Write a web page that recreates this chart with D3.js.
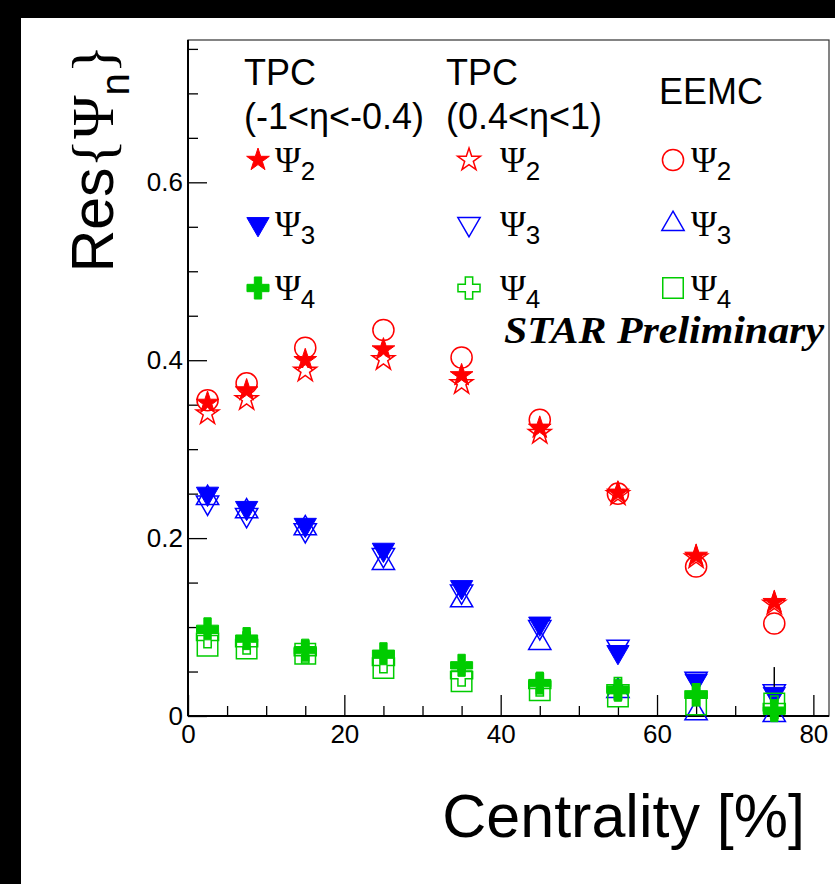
<!DOCTYPE html>
<html>
<head>
<meta charset="utf-8">
<script src="https://cdn.jsdelivr.net/npm/d3@7"></script>
<style>
  body { margin: 0; background: #000; }
  svg { display: block; }
</style>
</head>
<body>
<script>
// centrality bins (bin centres, %)
var centrality = [2.5, 7.5, 15, 25, 35, 45, 55, 65, 75];

// TPC (-1<eta<-0.4), filled markers
var tpcEastPsi2 = [0.352, 0.366, 0.400, 0.412, 0.383, 0.324, 0.251, 0.180, 0.128];
var tpcEastPsi3 = [0.250, 0.234, 0.215, 0.187, 0.145, 0.104, 0.072, 0.040, 0.025];
var tpcEastPsi4 = [0.098, 0.087, 0.074, 0.070, 0.057, 0.037, 0.029, 0.024, 0.006];
var tpcEastPsi3Err = [0, 0, 0, 0, 0, 0, 0, 0, 0.030];

// TPC (0.4<eta<1), open markers
var tpcWestPsi2 = [0.340, 0.356, 0.388, 0.401, 0.374, 0.318, 0.249, 0.178, 0.126];
var tpcWestPsi3 = [0.240, 0.226, 0.209, 0.181, 0.140, 0.100, 0.078, 0.042, 0.028];
var tpcWestPsi4 = [0.089, 0.082, 0.072, 0.061, 0.046, 0.035, 0.031, 0.024, 0.010];

// EEMC
var eemcPsi2 = [0.355, 0.374, 0.414, 0.434, 0.403, 0.333, 0.250, 0.168, 0.104];
var eemcPsi3 = [0.245, 0.230, 0.211, 0.172, 0.130, 0.082, 0.028, 0.003, 0.001];
var eemcPsi4 = [0.079, 0.076, 0.070, 0.054, 0.039, 0.029, 0.022, 0.013, 0.014];

// axis ticks
var xMajor = [0, 20, 40, 60, 80];
var yMajor = [0, 0.2, 0.4, 0.6];

var red = "#ff0000", blue = "#0000ff", green = "#00cc00";
var sans = "'Liberation Sans', Helvetica, Arial, sans-serif";
var serif = "'Liberation Serif', 'Times New Roman', serif";

var width = 835, height = 884;

var svg = d3.select("body").append("svg")
    .attr("width", width)
    .attr("height", height);

// black border round the canvas
svg.append("rect").attr("width", width).attr("height", height).attr("fill", "#000");
svg.append("rect").attr("x", 21).attr("y", 18)
    .attr("width", width - 21).attr("height", height - 18).attr("fill", "#fff");

var x = d3.scaleLinear().domain([0, 82]).range([188, 829]);
var y = d3.scaleLinear().domain([0, 0.76]).range([716, 40]);

// frame
svg.append("rect")
    .attr("x", x(0)).attr("y", y(0.76))
    .attr("width", x(82) - x(0)).attr("height", y(0) - y(0.76))
    .attr("fill", "none").attr("stroke", "#333").attr("stroke-width", 1.2);

// axes, ticks pointing inwards
var xAxis = svg.append("g").attr("transform", "translate(0," + y(0) + ")")
    .call(d3.axisBottom(x).tickValues(xMajor).tickSizeInner(-21).tickSizeOuter(0).tickPadding(9));
var xMinor = svg.append("g").attr("transform", "translate(0," + y(0) + ")")
    .call(d3.axisBottom(x).tickValues(d3.range(0, 81, 5).filter(function(d){ return d % 20 !== 0; }))
        .tickSizeInner(-10).tickSizeOuter(0).tickFormat(""));
var yAxis = svg.append("g").attr("transform", "translate(" + x(0) + ",0)")
    .call(d3.axisLeft(y).tickValues(yMajor).tickSizeInner(-19).tickSizeOuter(0).tickPadding(5)
        .tickFormat(function(d){ return d === 0 ? "0" : d3.format(".1f")(d); }));
var yMinor = svg.append("g").attr("transform", "translate(" + x(0) + ",0)")
    .call(d3.axisLeft(y).tickValues(d3.range(0, 16).map(function(i){ return i * 0.05; })
            .filter(function(d, i){ return i % 4 !== 0; }))
        .tickSizeInner(-10).tickSizeOuter(0).tickFormat(""));

[xAxis, xMinor, yAxis, yMinor].forEach(function(g){
    g.select(".domain").remove();
    g.selectAll("line").attr("stroke", "#000").attr("stroke-width", 1.3);
    g.selectAll("text").attr("font-family", sans).attr("font-size", 26).attr("fill", "#000");
});

// axis lines
svg.append("line").attr("x1", x(0)).attr("x2", x(82)).attr("y1", y(0)).attr("y2", y(0))
    .attr("stroke", "#000").attr("stroke-width", 2);
svg.append("line").attr("x1", x(0)).attr("x2", x(0)).attr("y1", y(0)).attr("y2", y(0.76))
    .attr("stroke", "#000").attr("stroke-width", 2);

// marker shapes
var starSym = d3.symbol().type(d3.symbolStar).size(160);
var circleSym = d3.symbol().type(d3.symbolCircle).size(350);
var triSym = d3.symbol().type(d3.symbolTriangle).size(215);
var squareSym = d3.symbol().type(d3.symbolSquare).size(420);
var crossSym = d3.symbol().type(d3.symbolCross).size(270);

var series = [
    {values: eemcPsi2, shape: circleSym, color: red, filled: false},
    {values: tpcWestPsi2, shape: starSym, color: red, filled: false},
    {values: tpcEastPsi2, shape: starSym, color: red, filled: true},
    {values: eemcPsi3, shape: triSym, color: blue, filled: false},
    {values: tpcWestPsi3, shape: triSym, color: blue, filled: false, flip: true},
    {values: tpcEastPsi3, shape: triSym, color: blue, filled: true, flip: true, err: tpcEastPsi3Err},
    {values: eemcPsi4, shape: squareSym, color: green, filled: false},
    {values: tpcWestPsi4, shape: crossSym, color: green, filled: false},
    {values: tpcEastPsi4, shape: crossSym, color: green, filled: true}
];

function drawMarker(g, s, cx, cy){
    g.append("path")
        .attr("d", s.shape())
        .attr("transform", "translate(" + cx + "," + cy + ")" + (s.flip ? " rotate(180)" : ""))
        .attr("fill", s.filled ? s.color : "none")
        .attr("stroke", s.color)
        .attr("stroke-width", s.filled ? 1 : 1.5);
}

var plot = svg.append("g");
series.forEach(function(s){
    if (s.err) {
        s.err.forEach(function(e, i){
            if (!e) return;
            plot.append("line")
                .attr("x1", x(centrality[i])).attr("x2", x(centrality[i]))
                .attr("y1", y(Math.min(0.76, s.values[i] + e)))
                .attr("y2", y(Math.max(0, s.values[i] - e)))
                .attr("stroke", "#000").attr("stroke-width", 1.5);
        });
    }
    s.values.forEach(function(v, i){
        drawMarker(plot, s, x(centrality[i]), y(v));
    });
});

// legend
var legend = svg.append("g");
var heads = [
    {x: 244, lines: ["TPC", "(-1<\u03b7<-0.4)"], y: 85},
    {x: 446, lines: ["TPC", "(0.4<\u03b7<1)"], y: 85},
    {x: 659, lines: ["EEMC"], y: 104}
];
heads.forEach(function(h){
    h.lines.forEach(function(t, i){
        legend.append("text")
            .attr("x", h.x).attr("y", h.y + i * 44)
            .attr("font-family", sans).attr("font-size", 36)
            .text(t);
    });
});

var harmonics = ["2", "3", "4"];
var rowY = [160, 224, 288];
var colMarkerX = [258, 469, 673];
var colTextX = [275, 500, 691];
// series are grouped by harmonic, columns: filled TPC, open TPC, EEMC
var colOrder = [2, 1, 0];
harmonics.forEach(function(n, r){
    colOrder.forEach(function(k, c){
        var s = series[r * 3 + k];
        drawMarker(legend, s, colMarkerX[c], rowY[r]);
        var t = legend.append("text")
            .attr("x", colTextX[c]).attr("y", rowY[r] + 12)
            .attr("font-family", serif).attr("font-size", 35)
            .text("\u03a8");
        t.append("tspan")
            .attr("dy", 8).attr("font-family", sans).attr("font-size", 26)
            .text(n);
    });
});

// preliminary label
svg.append("text")
    .attr("x", 504).attr("y", 343)
    .attr("font-family", serif).attr("font-weight", "bold").attr("font-style", "italic")
    .attr("font-size", 38)
    .attr("textLength", 320).attr("lengthAdjust", "spacingAndGlyphs")
    .text("STAR Preliminary");

// axis titles
svg.append("text")
    .attr("x", 805).attr("y", 837)
    .attr("text-anchor", "end")
    .attr("font-family", sans).attr("font-size", 61)
    .text("Centrality [%]");

var yTitle = svg.append("text")
    .attr("transform", "translate(113,45) rotate(-90)")
    .attr("text-anchor", "end")
    .attr("font-family", sans).attr("font-size", 59);
yTitle.append("tspan").text("Res");
yTitle.append("tspan").attr("font-family", serif).text("{\u03a8");
yTitle.append("tspan").attr("dy", 16).attr("font-size", 40).text("n");
yTitle.append("tspan").attr("dy", -16).attr("font-family", serif).text("}");
</script>
</body>
</html>
